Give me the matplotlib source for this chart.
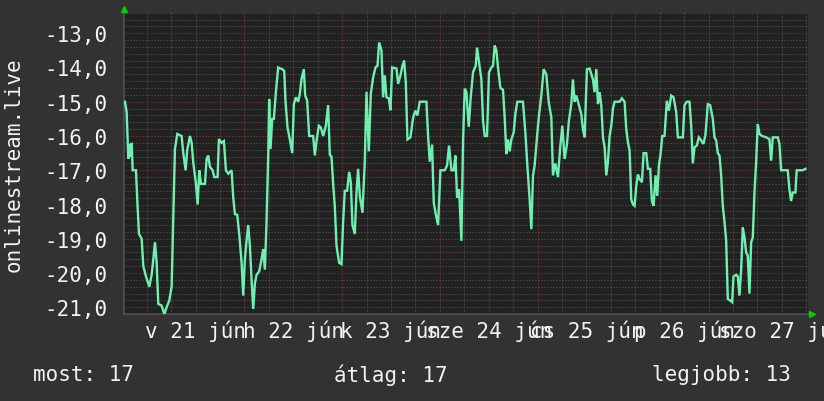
import matplotlib
matplotlib.use("Agg")
import matplotlib.pyplot as plt
import numpy as np

# ---- data (hours since 21 jún 00:00, value) ----
hours = [-5.33, -4.92, -4.51, -4.2, -3.9, -3.69, -3.44, -2.63, -2.30, -1.89, -1.23, -0.83, -0.17,
         0.65, 1.22, 1.63, 2.04, 2.45, 2.85, 3.67, 4.33, 4.90, 5.55, 6.13, 6.54, 6.94, 7.52,
         8.58, 8.99, 9.56, 9.97, 10.63, 11.04, 11.44, 12.10, 12.51, 12.92, 13.33, 14.31, 14.72,
         15.12, 15.53, 16.19, 16.60, 17.42, 17.74, 18.40, 18.97, 19.46, 20.03, 20.85, 21.26,
         21.67, 22.24, 22.73, 23.31, 23.71, 24.12, 24.53, 24.94, 25.35, 25.76, 26.17, 26.58,
         26.99, 27.64, 28.21, 28.62, 29.03, 29.44, 29.85, 30.09, 30.42, 30.83, 31.24, 31.73,
         32.30, 33.28, 33.78, 34.10, 34.59, 35.17, 35.74, 36.15, 36.64, 37.21, 37.62, 38.03,
         38.60, 38.93, 39.42, 39.91, 40.89, 41.30, 41.71, 42.28, 42.77, 43.35, 44.00, 44.57,
         44.98, 45.39, 45.80, 46.21, 46.62, 47.27, 47.85, 48.25, 48.66, 49.23, 49.73, 50.14,
         50.54, 51.12, 51.53, 51.93, 52.35, 53.0, 53.57, 53.99, 54.56, 55.05, 55.62, 56.20,
         56.69, 57.09, 57.67, 58.07, 58.48, 58.89, 59.46, 59.88, 60.28, 61.35, 61.76, 62.33,
         62.82, 63.23, 63.64, 64.05, 64.79, 65.44, 66.01, 66.50, 67.07, 68.71, 69.12, 69.53,
         70.10, 70.51, 71.00, 71.57, 72.15, 73.21, 73.78, 74.27, 74.85, 75.42, 75.83, 76.24,
         76.73, 77.30, 77.71, 78.12, 78.53, 79.10, 79.59, 80.16, 80.82, 81.14, 81.63, 82.21,
         82.61, 83.02, 83.59, 84.08, 84.66, 85.07, 85.47, 85.89, 86.29, 86.87, 87.52, 87.93,
         88.34, 88.75, 89.15, 89.57, 90.14, 90.55, 91.04, 92.42, 93.01, 93.50, 94.06, 94.48,
         94.89, 95.29, 95.86, 96.35, 96.93, 97.50, 98.16, 98.73, 99.39, 99.79, 100.37, 101.02,
         101.60, 102.09, 102.65, 103.22, 103.71, 104.29, 104.69, 105.11, 105.52, 106.09,
         106.75, 107.15, 107.56, 108.13, 108.79, 109.61, 110.01, 110.43, 110.84, 111.25,
         111.66, 112.07, 112.48, 112.89, 113.29, 113.70, 114.11, 114.52, 114.93, 116.15,
         116.72, 117.38, 117.79, 118.20, 118.61, 119.02, 119.43, 119.84, 120.25, 120.66,
         121.07, 121.64, 122.05, 122.70, 123.11, 123.68, 124.09, 124.50, 124.99, 125.40,
         125.81, 126.22, 126.63, 127.19, 127.76, 128.25, 128.83, 129.40, 130.06, 130.46,
         131.69, 132.10, 132.67, 133.32, 133.74, 134.14, 134.55, 135.12, 135.61, 136.19,
         136.76, 137.25, 137.82, 138.40, 139.05, 139.46, 139.88, 140.27, 140.69, 141.10,
         141.50, 141.92, 142.33, 142.73, 143.31, 143.80, 144.13, 144.78, 145.19, 145.60,
         146.01, 146.41, 146.83, 147.24, 147.64, 148.05, 148.47, 148.87, 149.28, 149.69,
         150.09, 150.51, 151.16, 152.14, 152.96, 153.37, 153.78, 155.00, 155.42, 155.83,
         157.45, 157.86, 158.27, 158.68, 159.34, 159.65, 161.12, 161.80]

values = [-15.0, -15.3, -16.67, -16.23, -16.6, -16.2, -17.0, -17.0, -17.9, -18.86, -19.0, -19.8, -20.1,
          -20.4, -20.05, -19.6, -19.1, -19.7, -20.9, -20.95, -21.2, -21.0, -20.8, -20.4, -18.4, -16.38, -15.94,
          -16.0, -16.5, -17.0, -16.4, -16.0, -16.2, -16.77, -17.4, -18.0, -17.0, -17.4, -17.4, -16.67,
          -16.57, -16.9, -17.0, -17.2, -17.2, -16.09, -16.2, -16.15, -17.0, -17.1, -17.0, -17.8,
          -18.28, -18.3, -18.86, -19.7, -20.66, -19.6, -19.06, -18.6, -19.2, -20.2, -21.05, -20.3,
          -20.05, -19.95, -19.6, -19.3, -19.9, -18.5, -16.57, -14.92, -16.38, -15.5, -15.5, -14.72,
          -14.0, -14.05, -14.1, -15.0, -15.75, -16.1, -16.5, -15.07, -14.87, -15.0, -14.77, -14.34,
          -14.05, -14.82, -14.97, -16.0, -16.0, -16.57, -16.15, -15.7, -15.75, -16.0, -15.7, -15.1,
          -16.55, -16.6, -17.4, -18.06, -19.2, -19.7, -19.74, -18.5, -17.6, -17.6, -17.05, -17.35,
          -18.6, -18.86, -17.65, -16.96, -17.75, -18.24, -16.75, -14.71, -16.45, -14.77, -14.29, -14.0,
          -13.95, -13.27, -13.5, -14.87, -14.23, -14.87, -14.9, -15.25, -14.0, -14.03, -14.48, -14.23,
          -13.95, -13.8, -14.43, -16.1, -16.04, -15.46, -15.26, -15.4, -15.0, -15.0, -16.0, -16.75,
          -16.25, -17.95, -18.28, -18.6, -17.0, -17.0, -16.86, -16.28, -17.0, -17.0, -16.57, -17.8,
          -17.55, -19.06, -16.1, -14.62, -14.71, -15.73, -14.87, -14.14, -13.95, -13.42, -13.85, -14.35,
          -15.55, -16.0, -16.0, -14.14, -14.0, -13.95, -13.36, -13.5, -14.0, -14.6, -14.65, -15.46,
          -16.53, -16.1, -16.45, -16.1, -15.9, -15.36, -15.0, -15.0, -15.9, -16.86, -17.85, -18.72,
          -17.15, -16.86, -16.04, -15.4, -14.82, -14.05, -14.2, -15.0, -15.46, -17.15, -16.8, -17.2,
          -16.28, -15.7, -16.67, -16.25, -15.55, -15.07, -14.35, -15.0, -14.82, -15.07,
          -15.36, -15.8, -16.04, -14.05, -14.03, -14.35, -14.72, -14.05, -15.07, -14.72,
          -15.1, -16.04, -16.33, -17.15, -16.75, -16.0, -15.7, -15.2, -15.0, -15.0,
          -14.9, -15.0, -15.8, -16.18, -16.43, -17.85, -18.0, -18.04, -17.45, -17.12,
          -17.26, -17.35, -16.5, -16.5, -16.96, -16.96, -17.9, -18.04, -17.15, -17.75,
          -16.86, -16.53, -16.0, -16.0, -14.97, -15.26, -14.82, -14.87, -15.3, -16.04,
          -16.04, -15.1, -15.0, -15.0, -15.7, -16.8, -16.33, -16.28, -16.04, -16.13,
          -16.23, -15.96, -15.07, -15.1, -15.5, -16.04, -16.13, -16.5, -16.57, -17.15,
          -18.04, -18.5, -19.06, -20.76, -20.8, -20.85, -20.1, -20.05, -20.1, -20.66,
          -19.9, -18.67, -18.96, -19.4, -19.5, -20.6, -19.1, -18.96, -17.65, -16.77,
          -15.65, -15.94, -16.0, -16.04, -16.09, -16.72, -16.04, -16.04, -16.23, -17.0,
          -17.0, -17.55, -17.9, -17.65, -17.65, -17.0, -17.0, -16.96]

day_labels = ["v 21 jún", "h 22 jún", "k 23 jún", "sze 24 jún", "cs 25 jún", "p 26 jún", "szo 27 jún"]
y_ticks = [-13, -14, -15, -16, -17, -18, -19, -20, -21]
y_title = "onlinestream.live"
stats = ["most: 17", "átlag: 17", "legjobb: 13"]

# ---- styling ----
FIG_BG = "#323232"
AX_BG = "#212121"
LINE_C = "#6ff0b2"
MINOR_C = "#5c5c5c"
MAJOR_C = "#8a3c3c"
TXT = "#f2f2f2"
FONT = "DejaVu Sans Mono"

W, H = 824, 402
fig = plt.figure(figsize=(W / 100, H / 100), dpi=100, facecolor=FIG_BG)
L, R, T, B = 124, 808, 14, 315
ax = fig.add_axes([L / W, 1 - B / H, (R - L) / W, (B - T) / H])
ax.set_facecolor(AX_BG)

x0, x1 = -5.57, -5.57 + 168
y0, y1 = -21.196, -12.41
ax.set_xlim(x0, x1)
ax.set_ylim(y0, y1)

dot = (0, (1, 2))
lw = 0.72
# minor grid
for xv in np.arange(-24, 180, 6):
    if x0 < xv < x1 and xv % 24 != 0:
        ax.axvline(xv, color=MINOR_C, lw=lw, ls=dot, zorder=1)
for yv in np.arange(-21.2, -12.3, 0.2):
    if abs(yv - round(yv)) > 0.01:
        ax.axhline(yv, color=MINOR_C, lw=lw, ls=dot, zorder=1)
# major grid
for xv in np.arange(0, 168, 24):
    ax.axvline(xv, color=MAJOR_C, lw=lw, ls=dot, zorder=1.5)
for yv in y_ticks:
    ax.axhline(yv, color=MAJOR_C, lw=lw, ls=dot, zorder=1.5)

ax.plot(hours, values, color=LINE_C, lw=1.7, zorder=3, solid_joinstyle="miter")

# ticks & labels
ax.set_yticks(y_ticks)
ax.set_yticklabels([f"{v:.1f}".replace(".", ",") for v in y_ticks],
                   fontfamily=FONT, fontsize=15, color=TXT)
ax.set_xticks([12 + 24 * i for i in range(len(day_labels))])
ax.set_xticklabels(day_labels, fontfamily=FONT, fontsize=15, color=TXT)
ax.tick_params(axis="y", length=0, pad=12)
ax.tick_params(axis="x", length=0, pad=4)
for lab in ax.get_xticklabels():
    lab.set_clip_on(False)

for s in ["top", "right"]:
    ax.spines[s].set_visible(False)
for s in ["left", "bottom"]:
    ax.spines[s].set_color("#505050")
    ax.spines[s].set_linewidth(1.2)

ax.set_ylabel(y_title, fontfamily=FONT, fontsize=15, color=TXT)
ax.yaxis.set_label_coords(-(L - 24) / (R - L), 0.5)

# arrows
fig.lines.append(plt.Line2D([L / W], [1 - 10 / H], marker="^", color="#00d000",
                            markersize=5, transform=fig.transFigure, linestyle="none"))
fig.lines.append(plt.Line2D([812 / W], [1 - B / H], marker=">", color="#00d000",
                            markersize=5, transform=fig.transFigure, linestyle="none"))

# stats texts
fig.text(33 / W, 1 - 375 / H, stats[0], fontfamily=FONT, fontsize=15, color=TXT,
         ha="left", va="center")
fig.text(334 / W, 1 - 375 / H, stats[1], fontfamily=FONT, fontsize=15, color=TXT,
         ha="left", va="center")
fig.text(791 / W, 1 - 375 / H, stats[2], fontfamily=FONT, fontsize=15, color=TXT,
         ha="right", va="center")

fig.savefig("out.png", dpi=100, facecolor=FIG_BG)
